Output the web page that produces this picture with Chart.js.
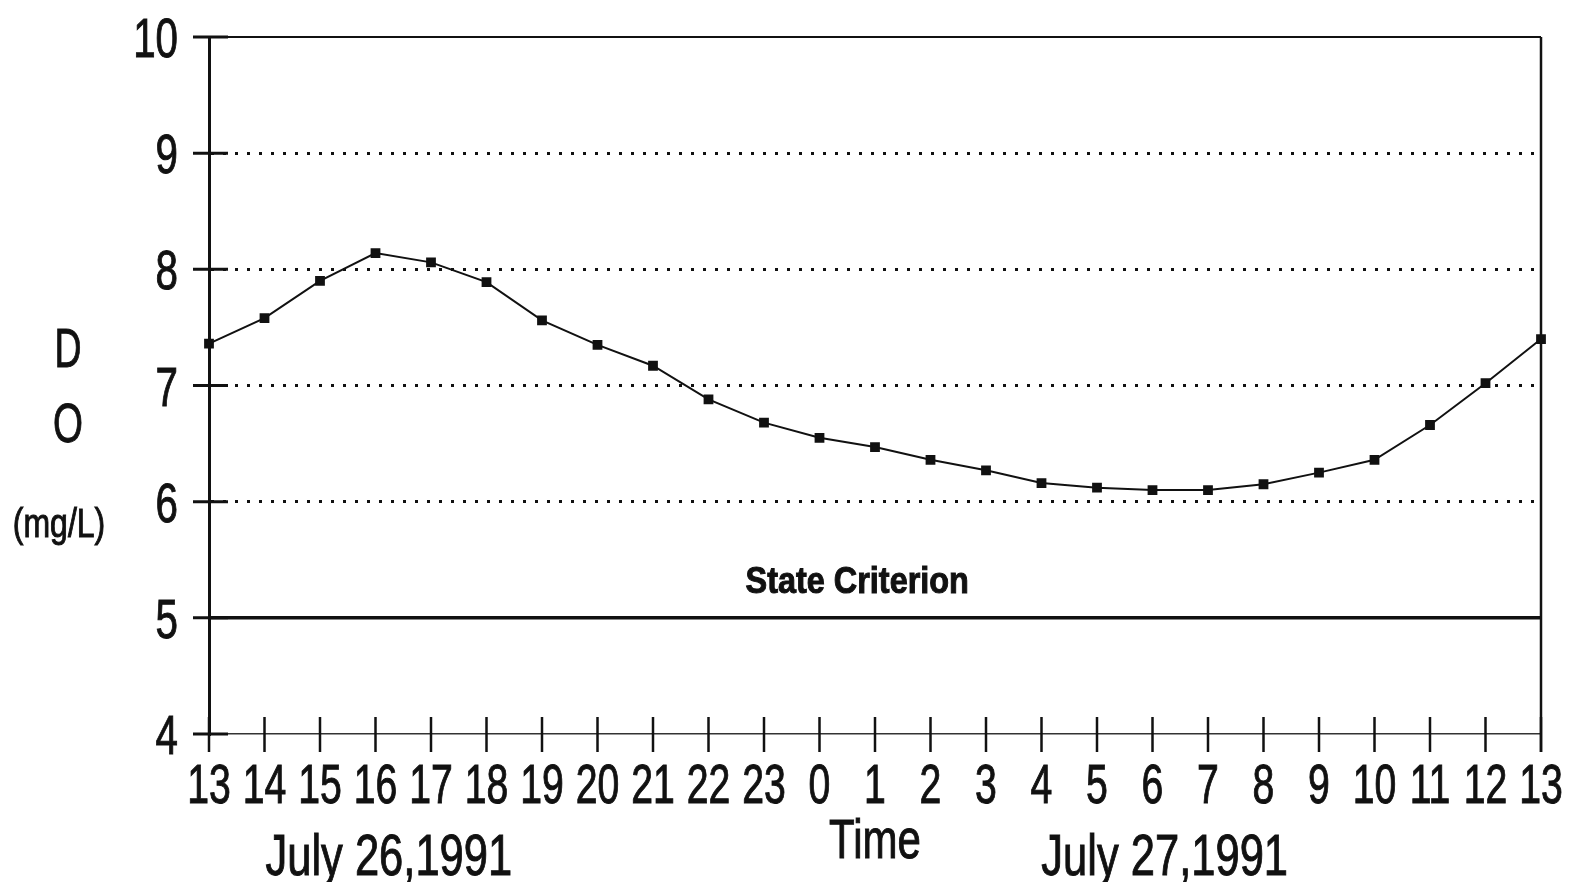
<!DOCTYPE html>
<html>
<head>
<meta charset="utf-8">
<title>DO - July 26-27, 1991</title>
<script src="https://cdn.jsdelivr.net/npm/chart.js@4.4.1/dist/chart.umd.min.js"></script>
<style>
  html, body { margin: 0; padding: 0; background: #fff; }
  #wrap { width: 1572px; height: 882px; position: relative; }
</style>
</head>
<body>
<div id="wrap"><canvas id="doChart"></canvas></div>
<script>
// Horas de muestreo (13h del 26 a 13h del 27)
const horas = ['13','14','15','16','17','18','19','20','21','22','23',
               '0','1','2','3','4','5','6','7','8','9','10','11','12','13'];

// Oxigeno disuelto (mg/L)
const oxigeno = [7.36, 7.58, 7.90, 8.14, 8.06, 7.89, 7.56, 7.35, 7.17, 6.88, 6.68,
                 6.55, 6.47, 6.36, 6.27, 6.16, 6.12, 6.10, 6.10, 6.15, 6.25, 6.36,
                 6.66, 7.02, 7.40];

const criterio = 5;           // State Criterion
const yMin = 4, yMax = 10;
const gridDotted = [6, 7, 8, 9];

// la fuente original es de plotter, estrecha: se comprime en x al dibujar
const fuente = "'Liberation Sans', Arial, sans-serif";
const tinta = '#111';

// textos sueltos: posicion en indice de categoria / valor de y
const fechas = [
  { text: 'July 26,1991', at: 3.24 },
  { text: 'July 27,1991', at: 17.22 }
];

function textoEstrecho(ctx, text, x, y, sx) {
  ctx.save();
  ctx.translate(x, y);
  ctx.scale(sx, 1);
  ctx.fillText(text, 0, 0);
  ctx.lineWidth = 1;
  ctx.strokeText(text, 0, 0);   // trazo un poco mas grueso, como el plotter
  ctx.restore();
}

const extrasPlugin = {
  id: 'extras',
  afterDraw(chart) {
    const { ctx, chartArea: a, scales: { x, y } } = chart;
    ctx.save();
    ctx.strokeStyle = tinta;
    ctx.lineCap = 'butt';

    // marco superior y derecho
    ctx.lineWidth = 2;
    ctx.beginPath();
    ctx.moveTo(a.left - 16, a.top);
    ctx.lineTo(a.right, a.top);
    ctx.stroke();
    ctx.lineWidth = 2.5;
    ctx.beginPath();
    ctx.moveTo(a.right, a.top);
    ctx.lineTo(a.right, a.bottom + 18);
    ctx.stroke();

    // marcas que cruzan el eje y
    ctx.lineWidth = 3;
    y.ticks.forEach(t => {
      const py = y.getPixelForValue(t.value);
      ctx.beginPath();
      ctx.moveTo(a.left - 16, py);
      ctx.lineTo(a.left + 19, py);
      ctx.stroke();
    });

    // marcas que cruzan el eje x
    ctx.lineWidth = 2.5;
    x.ticks.forEach(t => {
      const px = x.getPixelForValue(t.value);
      ctx.beginPath();
      ctx.moveTo(px, a.bottom - 17);
      ctx.lineTo(px, a.bottom + 18);
      ctx.stroke();
    });

    ctx.fillStyle = tinta;
    ctx.textBaseline = 'alphabetic';

    // etiquetas del eje y
    ctx.font = '56px ' + fuente;
    ctx.textAlign = 'right';
    y.ticks.forEach(t => {
      textoEstrecho(ctx, String(t.value), a.left - 31, y.getPixelForValue(t.value) + 20, 0.72);
    });

    // etiquetas del eje x
    ctx.textAlign = 'center';
    x.ticks.forEach(t => {
      textoEstrecho(ctx, x.getLabelForValue(t.value), x.getPixelForValue(t.value), a.bottom + 69, 0.7);
    });

    // titulo del eje x
    textoEstrecho(ctx, 'Time', (a.left + a.right) / 2, a.bottom + 124, 0.75);

    // fechas bajo el eje x
    ctx.font = '58px ' + fuente;
    fechas.forEach(f => {
      textoEstrecho(ctx, f.text, x.getPixelForValue(f.at), a.bottom + 141, 0.75);
    });

    // titulo del eje y, letras apiladas
    ctx.font = '55px ' + fuente;
    textoEstrecho(ctx, 'D', 68, y.getPixelForValue(7.16), 0.68);
    textoEstrecho(ctx, 'O', 68, y.getPixelForValue(6.51), 0.7);
    ctx.font = '41px ' + fuente;
    textoEstrecho(ctx, '(mg/L)', 59, y.getPixelForValue(5.70), 0.78);

    // etiqueta del criterio
    ctx.font = 'bold 36px ' + fuente;
    textoEstrecho(ctx, 'State Criterion', x.getPixelForValue(11.68), y.getPixelForValue(5.214), 0.9);

    ctx.restore();
  }
};

new Chart(document.getElementById('doChart'), {
  type: 'line',
  data: {
    labels: horas,
    datasets: [
      {
        label: 'DO',
        data: oxigeno,
        borderColor: tinta,
        backgroundColor: tinta,
        borderWidth: 2,
        pointStyle: 'rect',
        pointRadius: 5.5,
        pointHoverRadius: 5.5,
        tension: 0,
        clip: false
      },
      {
        label: 'State Criterion',
        data: horas.map(() => criterio),
        borderColor: tinta,
        borderWidth: 3.5,
        pointRadius: 0,
        tension: 0
      }
    ]
  },
  options: {
    responsive: true,
    maintainAspectRatio: false,
    animation: false,
    layout: { padding: { left: 0, top: 37, right: 31, bottom: 0 } },
    plugins: {
      legend: { display: false },
      tooltip: { enabled: false }
    },
    scales: {
      x: {
        type: 'category',
        offset: false,
        grid: { display: false, drawTicks: false },
        border: { display: true, color: '#333', width: 1.5 },
        ticks: { display: false, autoSkip: false, maxRotation: 0 },
        afterFit(scale) { scale.height = 148; }
      },
      y: {
        min: yMin,
        max: yMax,
        ticks: { display: false, stepSize: 1 },
        grid: {
          drawTicks: false,
          lineWidth: 3,
          color: ctx => gridDotted.includes(ctx.tick && ctx.tick.value) ? tinta : 'rgba(0,0,0,0)',
          borderDash: [3, 9]
        },
        border: { display: true, color: tinta, width: 3, dash: [3, 9] },
        afterFit(scale) { scale.width = 209; }
      }
    }
  },
  plugins: [extrasPlugin]
});
</script>
</body>
</html>
